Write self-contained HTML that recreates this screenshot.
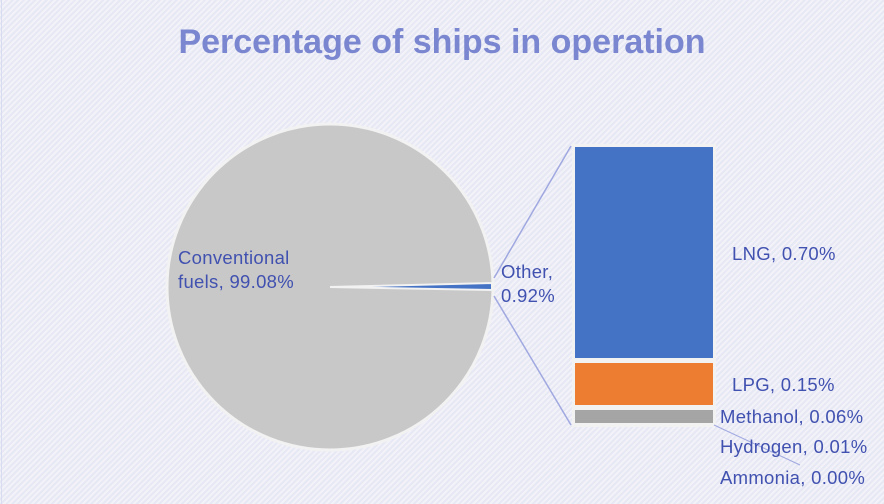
<!DOCTYPE html>
<html><head><style>
html,body{margin:0;padding:0}
body{width:884px;height:504px;overflow:hidden;font-family:"Liberation Sans",sans-serif;
background:repeating-linear-gradient(135deg,#e6e8f4 0 2px,#f2f2f8 2px 4px);position:relative}
.t{position:absolute;color:#4151b0;font-size:18.5px;line-height:24px;letter-spacing:0.3px;white-space:nowrap}
</style></head><body>
<div style="position:absolute;left:1px;top:0;width:1px;height:504px;background:#d8dcf0"></div>
<div style="position:absolute;left:0;top:23px;width:884px;text-align:center;font-size:34px;font-weight:bold;color:#7a86cf">Percentage of ships in operation</div>
<svg width="884" height="504" style="position:absolute;left:0;top:0">
<circle cx="330" cy="287" r="163" fill="#c8c8c8" stroke="#f2f2f2" stroke-width="3"/>
<polygon points="330,287 492,283 492,290" fill="#4472c4"/>
<polygon points="330,287 492,283 492,290" fill="none" stroke="#f2f2f2" stroke-width="2"/>
<line x1="494" y1="278" x2="571" y2="146" stroke="#a0a8e0" stroke-width="1.5"/>
<line x1="494" y1="296" x2="571" y2="425" stroke="#a0a8e0" stroke-width="1.5"/>
<rect x="572" y="144" width="144" height="283" fill="#f2f2f2"/>
<rect x="575" y="147" width="138" height="211" fill="#4472c4"/>
<rect x="575" y="363" width="138" height="42" fill="#ed7d31"/>
<rect x="575" y="410" width="138" height="13" fill="#a5a5a5"/>
<line x1="714" y1="425" x2="800" y2="465" stroke="#a0a8e0" stroke-width="1"/>
</svg>
<div class="t" style="left:178px;top:246px">Conventional<br>fuels, 99.08%</div>
<div class="t" style="left:501px;top:260px">Other,<br>0.92%</div>
<div class="t" style="left:732px;top:242px">LNG, 0.70%</div>
<div class="t" style="left:732px;top:373px">LPG, 0.15%</div>
<div class="t" style="left:720px;top:405px">Methanol, 0.06%</div>
<div class="t" style="left:720px;top:435px">Hydrogen, 0.01%</div>
<div class="t" style="left:720px;top:466px">Ammonia, 0.00%</div>
</body></html>
